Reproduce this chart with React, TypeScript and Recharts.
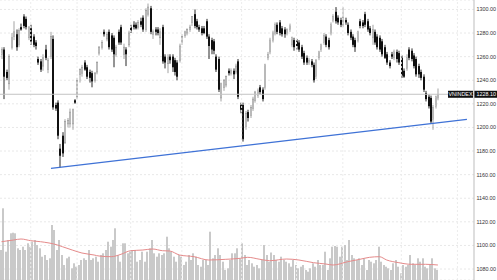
import React from "react";
import {
  ComposedChart,
  Bar,
  Line,
  XAxis,
  YAxis,
  CartesianGrid,
  ReferenceLine,
} from "recharts";

// daily candles, oldest first
const opens = [
  1262, 1266, 1247, 1237, 1268, 1277, 1279, 1270, 1285, 1294, 1292, 1276, 1284, 1277, 1272, 1258, 1256, 1252, 1266, 1249,
  1260, 1275, 1219, 1221, 1182, 1193, 1187, 1203, 1203, 1203, 1223, 1226, 1245, 1246, 1255, 1251, 1247, 1246, 1240, 1247,
  1263, 1268, 1281, 1275, 1281, 1278, 1276, 1262, 1281, 1285, 1262, 1266, 1270, 1285, 1287, 1287, 1285, 1290, 1293, 1283,
  1296, 1301, 1279, 1283, 1283, 1276, 1285, 1260, 1254, 1260, 1260, 1257, 1255, 1257, 1272, 1278, 1280, 1283, 1289, 1296,
  1290, 1285, 1284, 1284, 1290, 1277, 1274, 1273, 1260, 1258, 1225, 1234, 1236, 1248, 1246, 1248, 1247, 1256, 1219, 1219,
  1201, 1213, 1210, 1216, 1223, 1227, 1234, 1232, 1234, 1259, 1264, 1274, 1280, 1287, 1289, 1284, 1283, 1280, 1283, 1270,
  1274, 1273, 1272, 1268, 1263, 1259, 1255, 1256, 1253, 1243, 1259, 1266, 1272, 1277, 1274, 1280, 1291, 1298, 1293, 1291,
  1287, 1291, 1287, 1281, 1277, 1274, 1274, 1290, 1289, 1296, 1290, 1284, 1276, 1281, 1277, 1276, 1273, 1268, 1262, 1255,
  1262, 1259, 1264, 1263, 1259, 1248, 1250, 1266, 1265, 1261, 1258, 1252, 1247, 1243, 1229, 1226, 1225, 1207, 1218, 1225,
];
const highs = [
  1268, 1268, 1249, 1262, 1280, 1290, 1283, 1284, 1288, 1296, 1294, 1286, 1287, 1279, 1274, 1260, 1258, 1262, 1270, 1259,
  1281, 1278, 1221, 1223, 1186, 1196, 1207, 1208, 1216, 1216, 1224, 1242, 1250, 1253, 1257, 1253, 1249, 1248, 1247, 1256,
  1269, 1274, 1283, 1281, 1283, 1280, 1278, 1270, 1283, 1287, 1271, 1268, 1282, 1287, 1290, 1289, 1291, 1293, 1295, 1301,
  1305, 1303, 1283, 1285, 1285, 1284, 1287, 1262, 1262, 1262, 1262, 1259, 1257, 1271, 1279, 1282, 1284, 1287, 1294, 1300,
  1292, 1287, 1286, 1286, 1292, 1279, 1276, 1275, 1262, 1260, 1238, 1241, 1244, 1250, 1250, 1250, 1254, 1258, 1221, 1221,
  1214, 1215, 1219, 1226, 1231, 1233, 1236, 1234, 1254, 1264, 1276, 1282, 1289, 1289, 1291, 1286, 1285, 1284, 1288, 1277,
  1276, 1275, 1274, 1270, 1265, 1261, 1259, 1258, 1255, 1258, 1265, 1271, 1280, 1279, 1276, 1289, 1296, 1302, 1295, 1293,
  1302, 1293, 1289, 1283, 1279, 1276, 1282, 1292, 1291, 1298, 1292, 1286, 1287, 1283, 1279, 1278, 1275, 1270, 1264, 1257,
  1264, 1266, 1266, 1265, 1261, 1250, 1262, 1268, 1267, 1263, 1260, 1254, 1249, 1245, 1231, 1228, 1227, 1219, 1227, 1233,
];
const lows = [
  1258, 1224, 1240, 1232, 1266, 1274, 1265, 1268, 1282, 1284, 1283, 1274, 1270, 1268, 1266, 1253, 1247, 1248, 1257, 1246,
  1258, 1215, 1214, 1190, 1166, 1175, 1186, 1200, 1200, 1198, 1220, 1224, 1238, 1243, 1248, 1241, 1238, 1234, 1238, 1245,
  1261, 1266, 1277, 1273, 1266, 1264, 1251, 1260, 1270, 1270, 1258, 1252, 1268, 1280, 1283, 1283, 1283, 1285, 1281, 1281,
  1294, 1279, 1275, 1278, 1278, 1270, 1254, 1250, 1246, 1254, 1247, 1244, 1240, 1255, 1270, 1276, 1278, 1281, 1286, 1284,
  1283, 1281, 1278, 1279, 1275, 1258, 1262, 1262, 1247, 1230, 1222, 1231, 1234, 1244, 1244, 1241, 1245, 1224, 1212, 1188,
  1198, 1205, 1208, 1214, 1221, 1225, 1228, 1222, 1232, 1257, 1262, 1272, 1278, 1279, 1278, 1277, 1276, 1278, 1281, 1268,
  1265, 1266, 1264, 1258, 1253, 1253, 1253, 1251, 1238, 1241, 1257, 1264, 1270, 1268, 1266, 1278, 1289, 1288, 1287, 1285,
  1285, 1287, 1278, 1274, 1268, 1264, 1272, 1284, 1284, 1285, 1281, 1278, 1270, 1270, 1266, 1264, 1260, 1258, 1253, 1250,
  1258, 1257, 1255, 1253, 1242, 1242, 1248, 1257, 1256, 1250, 1243, 1242, 1240, 1230, 1222, 1216, 1203, 1198, 1216, 1223,
];
const closes = [
  1266, 1243, 1242, 1260, 1276, 1281, 1268, 1282, 1283, 1286, 1285, 1285, 1273, 1270, 1269, 1255, 1249, 1259, 1259, 1257,
  1277, 1217, 1216, 1193, 1176, 1178, 1205, 1206, 1213, 1215, 1221, 1240, 1249, 1251, 1249, 1243, 1242, 1239, 1246, 1255,
  1268, 1272, 1279, 1279, 1268, 1266, 1262, 1268, 1272, 1272, 1268, 1262, 1280, 1282, 1285, 1284, 1289, 1287, 1283, 1299,
  1302, 1281, 1281, 1281, 1280, 1281, 1256, 1255, 1259, 1257, 1251, 1247, 1243, 1269, 1277, 1281, 1283, 1285, 1294, 1286,
  1285, 1283, 1280, 1280, 1277, 1269, 1266, 1265, 1249, 1232, 1237, 1240, 1243, 1246, 1248, 1245, 1252, 1226, 1215, 1190,
  1212, 1208, 1217, 1224, 1230, 1231, 1230, 1224, 1253, 1262, 1274, 1280, 1287, 1281, 1280, 1279, 1279, 1283, 1286, 1276,
  1268, 1269, 1266, 1260, 1255, 1255, 1257, 1253, 1240, 1257, 1264, 1270, 1278, 1270, 1268, 1287, 1294, 1290, 1289, 1287,
  1293, 1289, 1280, 1276, 1270, 1268, 1281, 1286, 1286, 1287, 1283, 1280, 1283, 1272, 1268, 1266, 1262, 1259, 1255, 1252,
  1260, 1264, 1258, 1255, 1244, 1243, 1259, 1259, 1258, 1252, 1245, 1245, 1242, 1232, 1224, 1218, 1205, 1217, 1226, 1228.1,
];
const volumes = [
  300, 717, 283, 400, 467, 473, 467, 317, 300, 333, 300, 367, 333, 383, 400, 350, 317, 233, 250, 200,
  217, 550, 500, 300, 400, 250, 150, 217, 233, 117, 167, 133, 150, 200, 217, 200, 300, 200, 217, 233,
  183, 250, 267, 300, 383, 333, 400, 517, 250, 183, 367, 367, 267, 283, 300, 300, 183, 200, 283, 183,
  283, 317, 400, 267, 233, 267, 250, 267, 433, 317, 283, 233, 183, 250, 233, 150, 183, 250, 200, 267,
  233, 150, 133, 200, 200, 150, 483, 217, 250, 317, 250, 183, 100, 117, 200, 267, 267, 317, 217, 367,
  250, 150, 200, 167, 133, 150, 117, 200, 350, 250, 183, 275, 250, 200, 183, 233, 200, 183, 167, 133,
  200, 150, 117, 133, 150, 100, 83, 117, 167, 133, 200, 150, 150, 283, 100, 217, 333, 340, 333, 233,
  333, 350, 200, 400, 250, 217, 200, 217, 150, 217, 100, 200, 183, 167, 200, 333, 183, 150, 133, 117,
  100, 167, 200, 133, 67, 150, 133, 150, 250, 167, 150, 217, 183, 217, 133, 117, 150, 217, 117, 100,
];
// volume moving average, read at sample points
const maIndex = [0, 5, 8, 12, 16, 23, 25, 29, 33, 38, 40, 45, 49, 53, 58, 62, 66, 69, 73, 79, 85, 92, 98, 101, 106, 110, 117, 122, 128, 133, 136, 142, 147, 151, 155, 158, 163, 168, 174, 179];
const maValues = [383, 400, 410, 393, 383, 350, 333, 300, 270, 250, 240, 233, 257, 293, 300, 310, 293, 290, 250, 233, 200, 207, 217, 227, 207, 193, 210, 200, 173, 160, 150, 183, 207, 227, 233, 200, 173, 157, 157, 150];

const priceTicks = [1080, 1100, 1120, 1140, 1160, 1180, 1200, 1220, 1240, 1260, 1280, 1300];
const gridIndex = [12, 31, 53, 74, 98.5, 121, 140, 164, 187];
const trendStart = { x: 20.3, y: 1165.3 };
const trendEnd = { x: 190.9, y: 1206.8 };
const lastPrice = 1228.1;
const symbol = "VNINDEX";

const data = opens.map((o, i) => ({
  i,
  open: o,
  high: highs[i],
  low: lows[i],
  close: closes[i],
  range: [lows[i], highs[i]],
  volume: volumes[i],
}));

const maData = maIndex.map((i, k) => ({ i, ma: maValues[k] }));

const FONT = "Liberation Sans, Arial, sans-serif";

const Candle = (props: any) => {
  const { x, y, width, height, payload } = props;
  const top = Math.min(y, y + height);
  const bottom = Math.max(y, y + height);
  const k = (bottom - top) / (payload.high - payload.low || 1);
  const py = (p: number) => top + (payload.high - p) * k;
  const up = payload.close >= payload.open;
  const bx = Math.round(x + width / 2 - 1);
  const bTop = py(Math.max(payload.open, payload.close));
  const bBot = py(Math.min(payload.open, payload.close));
  const col = up ? "#999" : "#111";
  return (
    <g>
      <line x1={bx + 1} x2={bx + 1} y1={top} y2={bottom} stroke={col} strokeWidth={0.9} />
      {up ? (
        <rect x={bx + 0.3} y={bTop} width={1.4} height={Math.max(bBot - bTop, 1)} fill="#f2f2f2" stroke="#9a9a9a" strokeWidth={0.6} />
      ) : (
        <rect x={bx} y={bTop} width={2} height={Math.max(bBot - bTop, 1)} fill="#111" />
      )}
    </g>
  );
};

// volume bar snapped to whole pixels so it stays crisp
const VolBar = (props: any) => {
  const { x, y, width, height } = props;
  const bx = Math.round(x + width / 2 - 1);
  return <rect x={bx} y={y} width={2} height={height} fill="#c9c9c9" />;
};

const PriceTag = (props: any) => {
  const vb = props.viewBox || {};
  const right = vb.x + vb.width;
  const cy = vb.y;
  return (
    <g fontFamily={FONT} fontSize={5.4}>
      <rect x={right - 26} y={cy - 3.5} width={25} height={7} fill="#111" />
      <text x={right - 13.5} y={cy + 2} fill="#fff" textAnchor="middle">
        {symbol}
      </text>
      <rect x={right} y={cy - 3.5} width={23} height={7} fill="#111" />
      <text x={right + 2.5} y={cy + 2} fill="#fff">
        {lastPrice.toFixed(2)}
      </text>
    </g>
  );
};

export default function App() {
  return (
    <div style={{ position: "absolute", left: 0, top: 0, background: "#fff" }}>
      <ComposedChart width={497} height={280} data={data} margin={{ top: 0, right: 0, left: 0, bottom: 0 }}>
        <CartesianGrid yAxisId="price" vertical={false} stroke="#e8e8e8" strokeDasharray="2 2" />
        <XAxis dataKey="i" type="number" domain={[-0.6, 193.8]} allowDataOverflow hide />
        <YAxis
          yAxisId="price"
          orientation="right"
          width={23}
          domain={[1070.7, 1308]}
          allowDataOverflow
          ticks={priceTicks}
          tickFormatter={(v: number) => v.toFixed(2)}
          tick={{ fontSize: 5.4, fill: "#333", fontFamily: FONT }}
          tickLine={false}
          tickSize={0}
          tickMargin={2.5}
          axisLine={{ stroke: "#bdbdbd" }}
        />
        <YAxis yAxisId="vol" hide domain={[0, 2800]} />
        {gridIndex.map((g) => (
          <ReferenceLine key={g} x={g} yAxisId="price" stroke="#ececec" strokeDasharray="2 2" />
        ))}
        <ReferenceLine y={lastPrice} yAxisId="price" stroke="#c4c4c4" label={<PriceTag />} />
        <Bar yAxisId="vol" dataKey="volume" shape={<VolBar />} barSize={2} isAnimationActive={false} />
        <Line
          yAxisId="vol"
          data={maData}
          dataKey="ma"
          type="monotone"
          stroke="#e58a8a"
          strokeWidth={1}
          dot={false}
          activeDot={false}
          isAnimationActive={false}
        />
        <Bar yAxisId="price" dataKey="range" shape={<Candle />} barSize={2} isAnimationActive={false} />
        <ReferenceLine
          yAxisId="price"
          segment={[trendStart, trendEnd]}
          stroke="#3f72d6"
          strokeWidth={1.2}
        />
      </ComposedChart>
    </div>
  );
}
